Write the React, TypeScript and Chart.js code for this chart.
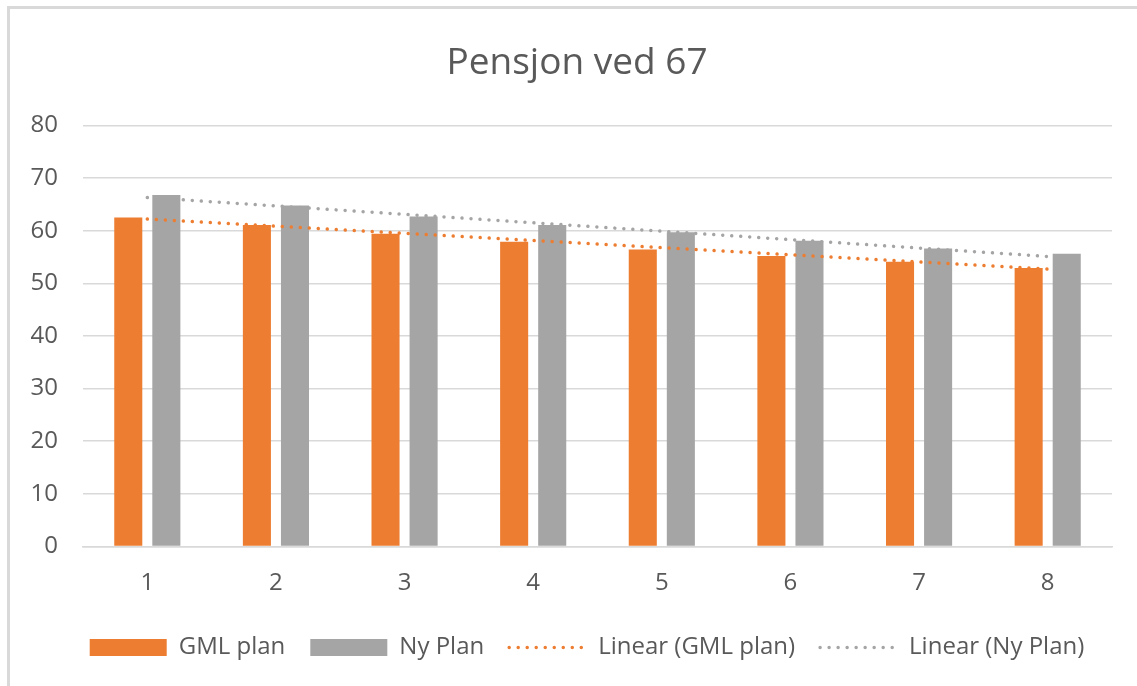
import React, { useEffect, useRef } from "react";
import { Chart, registerables } from "chart.js";

Chart.register(...registerables);

const categories = ["1", "2", "3", "4", "5", "6", "7", "8"];
const gmlPlan = [62.5, 61.1, 59.4, 57.9, 56.4, 55.2, 54.1, 52.9];
const nyPlan = [66.8, 64.8, 62.7, 61.1, 59.7, 58.1, 56.6, 55.6];
const trendGml = [62.2, null, null, null, null, null, null, 52.7];
const trendNy = [66.3, null, null, null, null, null, null, 55.1];
const seriesNames = ["GML plan", "Ny Plan", "Linear (GML plan)", "Linear (Ny Plan)"];
const yTicks = [0, 10, 20, 30, 40, 50, 60, 70, 80];

const ORANGE = "#ED7D31";
const GRAY = "#A5A5A5";
const TEXT = "#595959";
const GRID = "#D9D9D9";
const FONT = "'Open Sans', 'DejaVu Sans', sans-serif";
const DOT = [0.01, 9];

const shiftBoxes = {
  id: "shiftBoxes",
  afterLayout(chart: any) {
    if (chart.legend) chart.legend.left = 62;
    if (chart.titleBlock) chart.titleBlock.left = 42;
  },
};

export default function App() {
  const ref = useRef<HTMLCanvasElement | null>(null);

  useEffect(() => {
    if (!ref.current) return;
    const chart = new Chart(ref.current, {
      type: "bar",
      data: {
        labels: categories,
        datasets: [
          {
            type: "bar",
            label: seriesNames[0],
            data: gmlPlan,
            backgroundColor: ORANGE,
            categoryPercentage: 0.592,
            barPercentage: 0.737,
            order: 2,
          },
          {
            type: "bar",
            label: seriesNames[1],
            data: nyPlan,
            backgroundColor: GRAY,
            categoryPercentage: 0.592,
            barPercentage: 0.737,
            order: 2,
          },
          {
            type: "line",
            label: seriesNames[2],
            data: trendGml,
            borderColor: ORANGE,
            borderWidth: 3.5,
            borderDash: DOT,
            borderCapStyle: "round",
            pointRadius: 0,
            spanGaps: true,
            fill: false,
            order: 1,
          },
          {
            type: "line",
            label: seriesNames[3],
            data: trendNy,
            borderColor: GRAY,
            borderWidth: 3.5,
            borderDash: DOT,
            borderCapStyle: "round",
            pointRadius: 0,
            spanGaps: true,
            fill: false,
            order: 1,
          },
        ] as any,
      },
      plugins: [shiftBoxes],
      options: {
        animation: false,
        responsive: false,
        maintainAspectRatio: false,
        layout: { padding: { left: 0, right: 25, top: 0, bottom: 16.5 } },
        plugins: {
          tooltip: { enabled: false },
          title: {
            display: true,
            text: "Pensjon ved 67",
            color: TEXT,
            font: { family: FONT, size: 37, weight: "normal" },
            padding: { top: 41, bottom: 40 },
          },
          legend: {
            display: true,
            position: "bottom",
            labels: {
              color: TEXT,
              font: { family: FONT, size: 24 },
              usePointStyle: true,
              pointStyleWidth: 77,
              boxHeight: 17,
              padding: 25,
              generateLabels: () =>
                seriesNames.map((name, i) => {
                  const isBar = i < 2;
                  const color = i % 2 === 0 ? ORANGE : GRAY;
                  return {
                    text: name,
                    fillStyle: color,
                    strokeStyle: color,
                    lineWidth: isBar ? 0 : 3.5,
                    lineDash: isBar ? [] : DOT,
                    lineCap: isBar ? "butt" : "round",
                    pointStyle: isBar ? "rect" : "line",
                    hidden: false,
                    datasetIndex: i,
                    fontColor: TEXT,
                  } as any;
                }),
            },
          },
        },
        scales: {
          x: {
            grid: { display: false, drawTicks: false },
            border: { display: true, color: GRID, width: 1.5 },
            ticks: { color: TEXT, font: { family: FONT, size: 24 }, padding: 22.5 },
            afterFit: (scale: any) => {
              scale.height = 64;
            },
          },
          y: {
            min: 0,
            max: 80,
            afterBuildTicks: (scale: any) => {
              scale.ticks = yTicks.map((v) => ({ value: v }));
            },
            grid: { color: GRID, lineWidth: 1.5, drawTicks: false },
            border: { display: false },
            ticks: { color: TEXT, font: { family: FONT, size: 24 }, padding: 25 },
            afterFit: (scale: any) => {
              scale.width = 83;
            },
          },
        },
      } as any,
    });
    return () => chart.destroy();
  }, []);

  return (
    <div style={{ position: "fixed", left: 0, top: 0, width: 1137, height: 686, background: "#fff" }}>
      <div
        style={{
          position: "absolute",
          left: 7,
          top: 6,
          width: 1140,
          height: 690,
          borderLeft: `3px solid ${GRID}`,
          borderTop: `3px solid ${GRID}`,
        }}
      />
      <canvas ref={ref} width={1137} height={686} style={{ position: "absolute", left: 0, top: 0 }} />
    </div>
  );
}
